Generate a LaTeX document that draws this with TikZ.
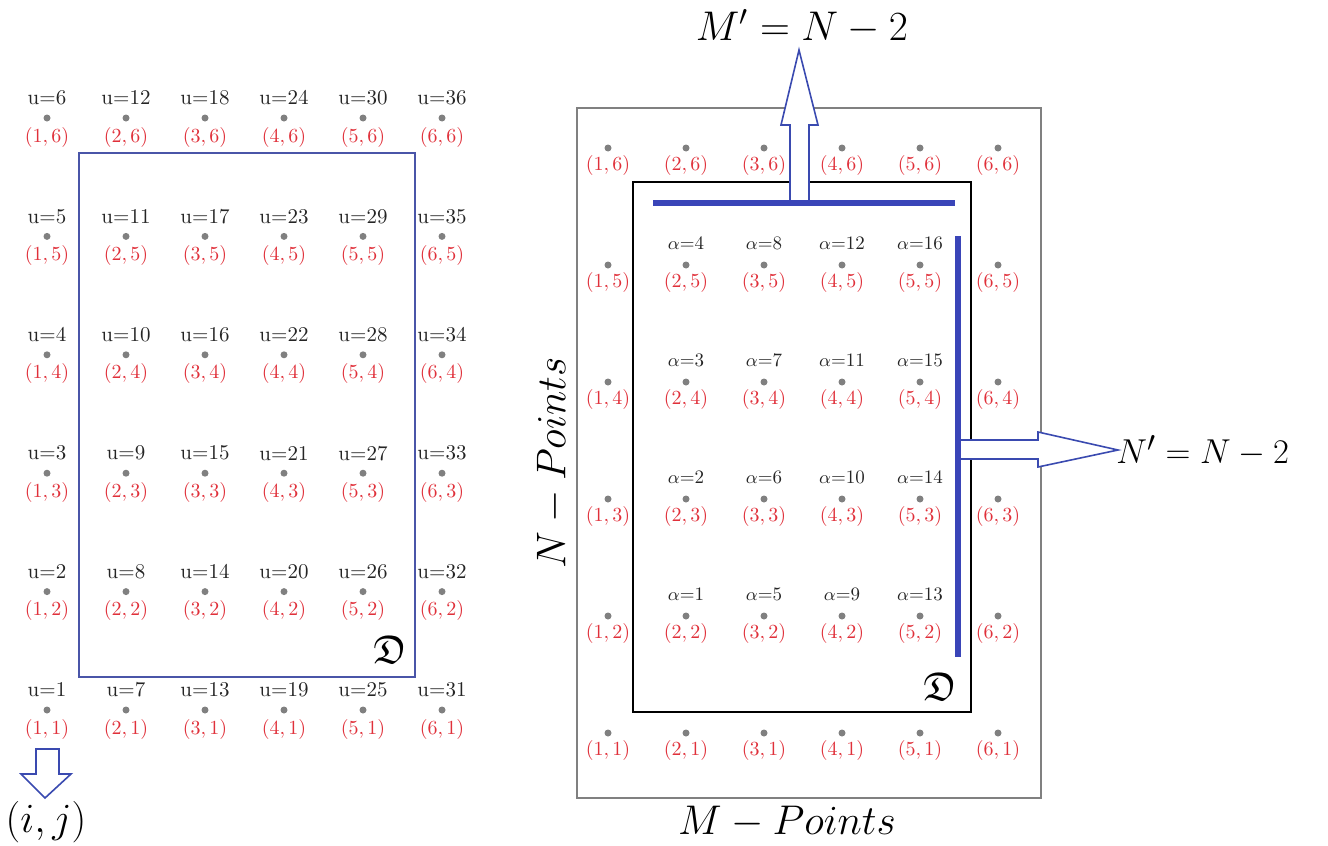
\documentclass[tikz,border=0pt]{standalone}
\usepackage{amssymb}
\definecolor{cred}{HTML}{E0303A}
\definecolor{cdot}{HTML}{808080}
\definecolor{rblue}{HTML}{4A55A8}
\definecolor{tblue}{HTML}{3A45B8}
\definecolor{ablue}{HTML}{3A4AB0}
\definecolor{ctext}{HTML}{252525}
\begin{document}
\begin{tikzpicture}[x=0.5pt,y=-0.5pt,
  dotn/.style={circle,fill=cdot,inner sep=0pt,minimum size=3.5pt},
  ulab/.style={inner sep=0pt,text=ctext,font=\fontsize{10.5}{11}\selectfont},
  alab/.style={inner sep=0pt,text=ctext,font=\fontsize{9.5}{10}\selectfont},
  clab/.style={inner sep=0pt,text=cred,font=\fontsize{10}{11}\selectfont},
  big/.style={inner sep=0pt,font=\fontsize{21}{22}\selectfont},
  blockarrow/.style={draw=ablue,fill=white,line width=0.8pt,line join=miter},
  thickblue/.style={draw=tblue,line width=2.6pt}]
\useasboundingbox (0,0) rectangle (1328,846);
% ---------- left grid ----------
\foreach \i in {1,...,6}{
  \foreach \j in {1,...,6}{
    \pgfmathsetmacro{\xx}{47+(\i-1)*79}
    \pgfmathsetmacro{\yy}{690-(\j-1)*118.4}
    \pgfmathtruncatemacro{\uu}{(\i-1)*6+\j}
    \node[ulab] (LU-\i-\j) at (\xx,\yy) {u=\uu};
    \node[dotn] (LD-\i-\j) at (\xx,\yy+20) {};
    \node[clab] (LC-\i-\j) at (\xx,\yy+39) {$(\i,\j)$};
  }
}
\node[draw=rblue,line width=0.8pt,inner sep=0pt,minimum width=168pt,minimum height=262pt] (Lrect) at (247,415) {};
\node[inner sep=0pt,font=\fontsize{20}{20}\selectfont] (LD) at (390,650) {$\mathfrak{D}$};
% down arrow and (i,j)
\coordinate (dA) at (45,749);
\draw[blockarrow] (dA) ++(-9,0) -- ++(23,0) -- ++(0,25) -- ++(12,0) -- (45,798) -- (21,774) -- (36,774) -- cycle;
\node[big,font=\fontsize{20}{21}\selectfont] (ij) at (46,822) {$(i,j)$};
% ---------- right grid ----------
\node[draw=cdot,line width=0.7pt,inner sep=0pt,minimum width=232pt,minimum height=345pt] (Outer) at (809,453) {};
\node[draw=black,line width=0.9pt,inner sep=0pt,minimum width=169pt,minimum height=265pt] (Inner) at (802,447) {};
\foreach \i in {1,...,6}{
  \foreach \j in {1,...,6}{
    \pgfmathsetmacro{\xx}{608+(\i-1)*78}
    \pgfmathsetmacro{\yy}{733-(\j-1)*117}
    \node[dotn] (RD-\i-\j) at (\xx,\yy) {};
    \node[clab] (RC-\i-\j) at (\xx,\yy+17) {$(\i,\j)$};
  }
}
\foreach \i in {2,...,5}{
  \foreach \j in {2,...,5}{
    \pgfmathsetmacro{\xx}{608+(\i-1)*78}
    \pgfmathsetmacro{\yy}{733-(\j-1)*117}
    \pgfmathtruncatemacro{\aa}{(\i-2)*4+(\j-1)}
    \node[alab] (RA-\i-\j) at (\xx,\yy-22) {$\alpha$=\aa};
  }
}
\node[inner sep=0pt,font=\fontsize{20}{20}\selectfont] (RDf) at (940,687) {$\mathfrak{D}$};
% up arrow
\coordinate (uA) at (790,203);
\draw[blockarrow] (uA) -- (790,125) -- (781,125) -- (799,50) -- (818,125) -- (809,125) -- (809,203) -- cycle;
% right arrow
\coordinate (rA) at (958,440);
\draw[blockarrow] (rA) -- (1038,440) -- (1038,432) -- (1118,450) -- (1038,467) -- (1038,459) -- (958,459) -- cycle;
% thick blue lines
\coordinate (hb1) at (653,203);
\coordinate (hb2) at (955,203);
\coordinate (vb1) at (958,236);
\coordinate (vb2) at (958,657);
\draw[thickblue] (hb1) -- (hb2);
\draw[thickblue] (vb1) -- (vb2);
% big labels
\node[big,font=\fontsize{21.5}{23}\selectfont] (Mp) at (802,27) {$M'=N-2$};
\node[big,font=\fontsize{19}{20}\selectfont,anchor=west] (Np) at (1116,451) {$N'=N-2$};
\node[big,rotate=90] (NP) at (553,463) {$N-Points$};
\node[big,font=\fontsize{21.5}{23}\selectfont] (MP) at (787,822) {$M-Points$};
\end{tikzpicture}
\end{document}
